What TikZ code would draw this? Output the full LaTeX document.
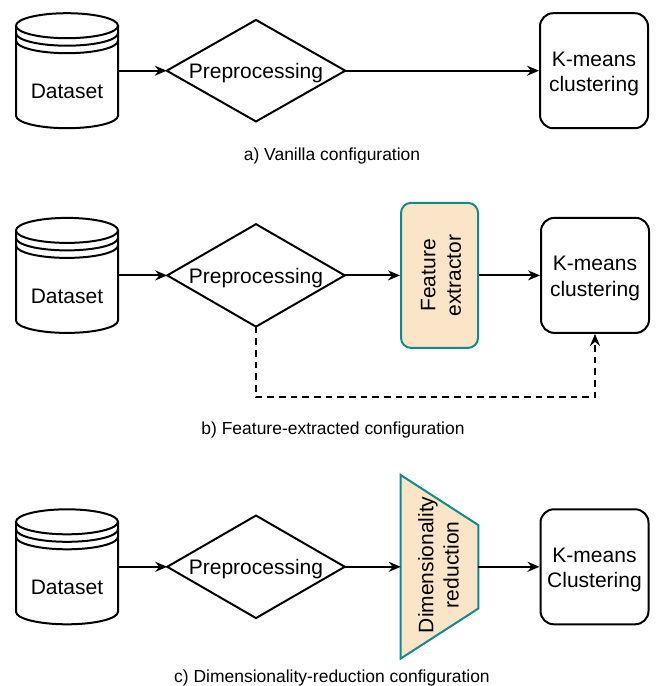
\documentclass[tikz,border=0pt]{standalone}
\usepackage{fontspec}
\setmainfont{Liberation Sans}
\usetikzlibrary{arrows.meta,calc}
\definecolor{tealc}{HTML}{13898B}
\definecolor{peach}{HTML}{FAE5C8}
\newcommand\dbcyl[1]{%
  \draw[line width=1.5pt, fill=white, shift={(#1.center)}]
    (-51,-45) -- (-51,45) arc[start angle=180, end angle=360, x radius=38.25pt, y radius=9.375pt] -- (51,-45);
  \draw[line width=1.5pt, fill=white, shift={(#1.center)}]
    (0,-45) ellipse[x radius=38.25pt, y radius=9.375pt];
  \draw[line width=1.5pt, shift={(#1.center)}]
    (-51,-37.5) arc[start angle=180, end angle=360, x radius=38.25pt, y radius=9.375pt];
  \draw[line width=1.5pt, shift={(#1.center)}]
    (-51,-30) arc[start angle=180, end angle=360, x radius=38.25pt, y radius=9.375pt];
}
\begin{document}
\begin{tikzpicture}[x=0.75pt, y=-0.75pt,
  sz/.style 2 args={minimum width=#1*0.75pt, minimum height=#2*0.75pt},
  lbl/.style={font=\fontsize{15.75}{19}\selectfont, align=center, inner sep=0pt},
  captxt/.style={font=\fontsize{13.1}{16}\selectfont, inner sep=0pt},
  holder/.style={draw=none, inner sep=0pt},
  edge/.style={line width=1.5pt, line join=miter},
  kmbox/.style={draw, line width=1.5pt, rounded corners=10pt, fill=white, sz={108}{115}},
  febox/.style={draw=tealc, fill=peach, line width=1.5pt, rounded corners=7.5pt, sz={77}{145}, inner sep=0pt},
  arr/.style={line width=1.5pt, -{Stealth[length=9pt, width=7.5pt, inset=3pt]}},
  dasharr/.style={arr, dash pattern=on 5pt off 3.75pt}
]
\useasboundingbox (0,0) rectangle (656,686);

% ---------- row a ----------
\node[holder, sz={102}{115}] (ds1) at (67,70.7) {};
\dbcyl{ds1}
\node[lbl] (ds1t) at ($(ds1.center)+(0,21)$) {Dataset};
\node[holder, sz={178}{101}] (pp1) at (256,70.7) {};
\draw[edge] (pp1.west) -- (pp1.north) -- (pp1.east) -- (pp1.south) -- cycle;
\node[lbl] (pp1t) at ($(pp1.center)+(0,2.5)$) {Preprocessing};
\node[kmbox] (km1) at (594,70.7) {};
\node[lbl] (km1t) at ($(km1.center)+(0,3)$) {K-means\\clustering};
\draw[arr] (ds1.east) -- (pp1.west);
\draw[arr] (pp1.east) -- (km1.west);
\node[captxt] (capa) at (332,156) {a) Vanilla configuration};

% ---------- row b ----------
\node[holder, sz={102}{115}] (ds2) at (67,275.4) {};
\dbcyl{ds2}
\node[lbl] (ds2t) at ($(ds2.center)+(0,21)$) {Dataset};
\node[holder, sz={177}{102}] (pp2) at (256,275.4) {};
\draw[edge] (pp2.west) -- (pp2.north) -- (pp2.east) -- (pp2.south) -- cycle;
\node[lbl] (pp2t) at ($(pp2.center)+(0,2.5)$) {Preprocessing};
\node[febox] (fe) at (439.5,275.4) {};
\node[lbl, rotate=90] (fet) at ($(fe.center)+(1.5,0)$) {Feature\\extractor};
\node[kmbox] (km2) at (595,275.4) {};
\node[lbl] (km2t) at ($(km2.center)+(0,3)$) {K-means\\clustering};
\draw[arr] (ds2.east) -- (pp2.west);
\draw[arr] (pp2.east) -- (fe.west);
\draw[arr] (fe.east) -- (km2.west);
\draw[dasharr] (pp2.south) -- ++(0,70.5) -| (km2.south);
\node[captxt] (capb) at (333,430) {b) Feature-extracted configuration};

% ---------- row c ----------
\node[holder, sz={102}{115}] (ds3) at (67,566.8) {};
\dbcyl{ds3}
\node[lbl] (ds3t) at ($(ds3.center)+(0,21)$) {Dataset};
\node[holder, sz={177}{102}] (pp3) at (256,566.8) {};
\draw[edge] (pp3.west) -- (pp3.north) -- (pp3.east) -- (pp3.south) -- cycle;
\node[lbl] (pp3t) at ($(pp3.center)+(0,2.5)$) {Preprocessing};
\node[holder, sz={77}{183}] (dr) at (439.5,566.8) {};
\draw[draw=tealc, fill=peach, line width=1.5pt, line join=miter]
  (dr.north west) -- ([yshift=-37.5pt]dr.north east) -- ([yshift=37.5pt]dr.south east) -- (dr.south west) -- cycle;
\node[lbl, rotate=90] (drt) at ($(dr.center)+(-1,-2)$) {Dimensionality\\reduction};
\node[kmbox] (km3) at (594.5,566.8) {};
\node[lbl] (km3t) at ($(km3.center)+(0,3)$) {K-means\\Clustering};
\draw[arr] (ds3.east) -- (pp3.west);
\draw[arr] (pp3.east) -- (dr.west);
\draw[arr] (dr.east) -- (km3.west);
\node[captxt] (capc) at (332,678) {c) Dimensionality-reduction configuration};
\end{tikzpicture}
\end{document}
